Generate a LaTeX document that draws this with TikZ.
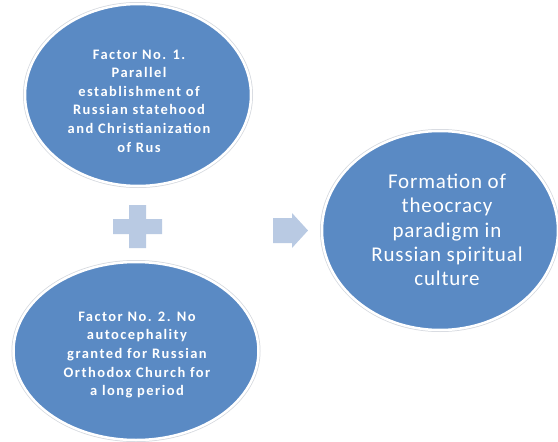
\documentclass[tikz,border=0pt]{standalone}
\usepackage{fontspec}
\setmainfont{Carlito}
\usetikzlibrary{shapes.geometric}
\definecolor{ellblue}{HTML}{5A8AC4}
\definecolor{lightblue}{HTML}{B9CAE3}
\definecolor{rim}{HTML}{D4D8DE}
\tikzset{
  bubble/.style={ellipse, inner sep=0pt, fill=ellblue, draw=white, line width=2.5pt,
    preaction={draw=rim, line width=4pt}},
  smalltext/.style={text=white, align=center, font=\fontsize{14.5}{18.6}\selectfont\bfseries\addfontfeatures{LetterSpace=10}},
  bigtext/.style={text=white, align=center, font=\fontsize{21}{24.2}\selectfont\addfontfeatures{LetterSpace=4}},
  shapefill/.style={fill=lightblue, draw=none}
}
\begin{document}
\begin{tikzpicture}[x=1pt,y=-1pt]
\useasboundingbox (0,0) rectangle (558,442);
\node[bubble, minimum width=226pt, minimum height=182pt] (e1) at (138,95) {};
\node[smalltext] (t1) at (139,101) {Factor No. 1.\\Parallel\\establishment of\\Russian statehood\\and Christianization\\of Rus};
\node[bubble, minimum width=245pt, minimum height=178pt] (e2) at (136,351) {};
\node[smalltext] (t2) at (137,355) {Factor No. 2. No\\autocephality\\granted for Russian\\Orthodox Church for\\a long period};
\node[bubble, minimum width=236pt, minimum height=199pt] (e3) at (440,230.5) {};
\node[bigtext] (t3) at (447,230) {Formation of\\theocracy\\paradigm in\\Russian spiritual\\culture};
\fill[shapefill] (129,205) -- (146,205) -- (146,219) -- (162,219) -- (162,234) -- (146,234)
  -- (146,248) -- (129,248) -- (129,234) -- (113,234) -- (113,219) -- (129,219) -- cycle;
\fill[shapefill] (273,218) -- (292,218) -- (292,213) -- (308,230.5) -- (292,248) -- (292,243)
  -- (273,243) -- cycle;
\end{tikzpicture}
\end{document}
